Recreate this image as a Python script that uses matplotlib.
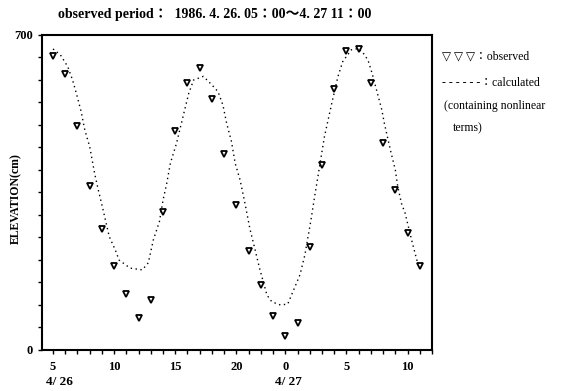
import numpy as np
import matplotlib
matplotlib.use("Agg")
import matplotlib.pyplot as plt
from matplotlib.ticker import MultipleLocator, FixedLocator

fam = ['Liberation Serif', 'DejaVu Sans', 'Noto Sans CJK JP']

# observed, hourly from 4/26 05:00 to 4/27 11:00 (hour 24 = 4/27 00:00)
obs_hours = list(range(5, 36))
obs_elev = [653, 613, 498, 364, 268, 187, 124, 72, 110, 307, 487, 593, 626, 558, 436,
            322, 221, 144, 75, 30, 59, 229, 412, 580, 664, 669, 593, 461, 356, 261, 187]

# calculated (containing nonlinear terms)
calc_hours = [5.0, 5.6, 6.2, 6.6, 6.9, 7.3, 7.6, 8.0, 8.4, 8.7, 9.1, 9.6, 10.1, 10.4, 11.3,
              12.3, 12.8, 13.2, 13.7, 14.0, 14.3, 14.6, 15.1, 15.7, 16.1, 16.5, 17.3, 18.0,
              18.5, 18.9, 19.2, 19.6, 19.9, 20.3, 20.7, 21.1, 21.4, 21.9, 22.5, 22.9, 23.6,
              24.2, 25.2, 25.6, 26.1, 26.4, 26.6, 27.2, 27.5, 27.8, 28.3, 28.7, 29.4, 30.0,
              30.5, 30.8, 31.1, 31.5, 31.9, 32.1, 32.6, 33.0, 33.2, 33.5, 33.8, 34.4, 34.8]
calc_elev = [669, 656, 630, 600, 571, 530, 489, 452, 393, 356, 311, 252, 222, 200, 182,
             178, 194, 244, 285, 333, 370, 415, 459, 526, 570, 600, 608, 589,
             574, 544, 504, 463, 415, 378, 326, 270, 237, 181, 122, 107, 100,
             102, 167, 211, 289, 341, 374, 474, 511, 548, 607, 641, 667, 670,
             656, 641, 615, 574, 533, 504, 444, 400, 363, 326, 304, 237, 196]

tick_hours = [5, 10, 15, 20, 24, 29, 34]
tick_labels = ['5', '10', '15', '20', '0', '5', '10']

fig = plt.figure(figsize=(5.77, 3.91), dpi=100)
ax = fig.add_axes([0.0728, 0.1049, 0.6759, 0.8056])

ax.plot(calc_hours, calc_elev, linestyle=(0, (1, 2.5)), color='black', linewidth=1.0)
ax.plot(obs_hours, obs_elev, linestyle='none', marker='v', markersize=5,
        markerfacecolor='white', markeredgecolor='black', markeredgewidth=1.3)

ax.set_xlim(4.1, 36.0)
ax.set_ylim(0, 700)
ax.xaxis.set_major_locator(FixedLocator(tick_hours))
ax.xaxis.set_minor_locator(MultipleLocator(1))
ax.set_xticklabels(tick_labels, family=fam, fontweight='bold', fontsize=9)
ax.set_yticks([0, 700])
ax.set_yticklabels(['0', '700'], family=fam, fontweight='bold', fontsize=9)
ax.yaxis.set_minor_locator(MultipleLocator(50))
ax.tick_params(which='both', direction='out', length=3, width=1)
ax.tick_params(axis='x', which='major', pad=5)
for s in ax.spines.values():
    s.set_linewidth(1.5)

ax.set_ylabel('ELEVATION(cm)', family=fam, fontweight='bold', fontsize=8.5)
ax.yaxis.set_label_coords(-0.05, 0.48)

fig.text(0.079, 0.022, '4/ 26', family=fam, fontweight='bold', fontsize=9.5, va='center')
fig.text(0.477, 0.022, '4/ 27', family=fam, fontweight='bold', fontsize=9.5, va='center')

fig.text(0.372, 0.962, 'observed period：  1986. 4. 26. 05：00～4. 27 11：00',
         family=fam, fontweight='bold', fontsize=10, ha='center', va='center')

fig.text(0.766, 0.855, '▽ ▽ ▽：observed', family=fam, fontsize=8.5, va='center')
fig.text(0.766, 0.788, '- - - - - -：calculated', family=fam, fontsize=8.5, va='center')
fig.text(0.770, 0.730, '(containing nonlinear', family=fam, fontsize=8.5, va='center')
fig.text(0.785, 0.671, 'terms)', family=fam, fontsize=8.5, va='center')

fig.savefig('out.png', dpi=100)
